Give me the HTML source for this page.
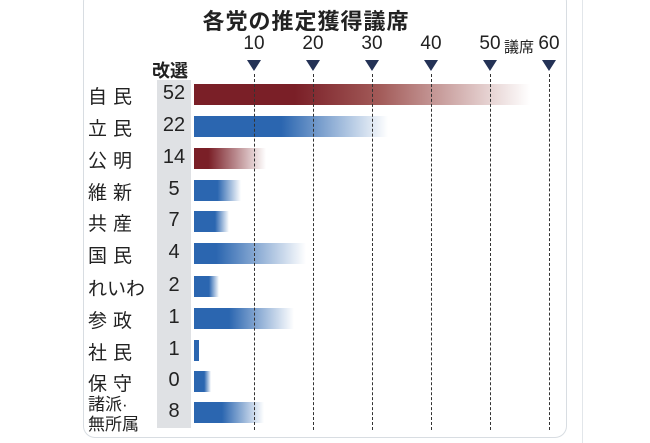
<!DOCTYPE html>
<html><head><meta charset="utf-8"><style>
body{margin:0;width:650px;height:443px;background:#fff;font-family:"Liberation Sans","Noto Sans CJK JP",sans-serif;position:relative;overflow:hidden;color:#222}
.card{position:absolute;left:83px;top:-10px;width:482px;height:446px;border:1px solid #d8dde2;border-radius:12px;background:#fff}
.vl{position:absolute;left:582px;top:0;width:1px;height:443px;background:#e2e6ea}
.t{position:absolute;white-space:nowrap}
.title{width:650px;text-align:center;top:4px;font-size:22px;font-weight:bold;letter-spacing:1px;left:-19px}
.ax{font-size:19px;top:33px;transform:translateX(-50%)}
.tri{position:absolute;top:60px;width:0;height:0;border-left:7px solid transparent;border-right:7px solid transparent;border-top:11px solid #243256;transform:translateX(-7px)}
.dl{position:absolute;top:74px;height:356px;border-left:1px dashed #333}
.gray{position:absolute;left:157px;top:80px;width:34px;height:348px;background:#dfe1e4}
.lab{font-size:19px;left:88px;letter-spacing:6px}
.num{font-size:20px;left:157px;width:34px;text-align:center}
.bar{position:absolute;left:194px;height:21px}
</style></head><body>
<div class="vl"></div>
<div class="card"></div>
<div class="t title">各党の推定獲得議席</div>
<div class="t ax" style="left:254px">10</div>
<div class="t ax" style="left:313px">20</div>
<div class="t ax" style="left:372px">30</div>
<div class="t ax" style="left:431px">40</div>
<div class="t ax" style="left:490px">50</div>
<div class="t" style="left:504px;top:36px;font-size:15px">議席</div>
<div class="t ax" style="left:549px">60</div>
<div class="tri" style="left:254px"></div><div class="tri" style="left:313px"></div><div class="tri" style="left:372px"></div><div class="tri" style="left:431px"></div><div class="tri" style="left:490px"></div><div class="tri" style="left:549px"></div>
<div class="gray"></div>
<div class="t" style="left:152px;top:57px;font-size:18px;font-weight:bold">改選</div>
<div class="bar" style="top:84px;width:336px;background:linear-gradient(90deg,#7a1f27 0%,#7a1f27 30%,#a25a58 55%,#fff 100%)"></div>
<div class="bar" style="top:116px;width:194px;background:linear-gradient(90deg,#2b66b0 0%,#2b66b0 45%,#fff 100%)"></div>
<div class="bar" style="top:148px;width:72px;background:linear-gradient(90deg,#7a1f27 0%,#7a1f27 20%,#fff 100%)"></div>
<div class="bar" style="top:180px;width:47px;background:linear-gradient(90deg,#2b66b0 50%,#fff 100%)"></div>
<div class="bar" style="top:211px;width:35px;background:linear-gradient(90deg,#2b66b0 60%,#fff 100%)"></div>
<div class="bar" style="top:243px;width:112px;background:linear-gradient(90deg,#2b66b0 20%,#fff 100%)"></div>
<div class="bar" style="top:276px;width:25px;background:linear-gradient(90deg,#2b66b0 60%,#fff 100%)"></div>
<div class="bar" style="top:308px;width:100px;background:linear-gradient(90deg,#2b66b0 35%,#fff 100%)"></div>
<div class="bar" style="top:340px;width:5px;background:#2b66b0"></div>
<div class="bar" style="top:371px;width:17px;background:linear-gradient(90deg,#2b66b0 60%,#fff 100%)"></div>
<div class="bar" style="top:402px;width:70px;background:linear-gradient(90deg,#2b66b0 40%,#fff 100%)"></div>
<div class="dl" style="left:254px"></div><div class="dl" style="left:313px"></div><div class="dl" style="left:372px"></div><div class="dl" style="left:431px"></div><div class="dl" style="left:490px"></div><div class="dl" style="left:549px"></div>
<div class="t lab" style="top:82px">自民</div><div class="t num" style="top:82px">52</div>
<div class="t lab" style="top:114px">立民</div><div class="t num" style="top:114px">22</div>
<div class="t lab" style="top:146px">公明</div><div class="t num" style="top:146px">14</div>
<div class="t lab" style="top:178px">維新</div><div class="t num" style="top:178px">5</div>
<div class="t lab" style="top:209px">共産</div><div class="t num" style="top:209px">7</div>
<div class="t lab" style="top:241px">国民</div><div class="t num" style="top:241px">4</div>
<div class="t lab" style="top:274px;letter-spacing:0">れいわ</div><div class="t num" style="top:274px">2</div>
<div class="t lab" style="top:306px">参政</div><div class="t num" style="top:306px">1</div>
<div class="t lab" style="top:338px">社民</div><div class="t num" style="top:338px">1</div>
<div class="t lab" style="top:369px">保守</div><div class="t num" style="top:369px">0</div>
<div class="t" style="left:88px;top:395px;font-size:17px;line-height:20px">諸派·<br>無所属</div><div class="t num" style="top:400px">8</div>
</body></html>
